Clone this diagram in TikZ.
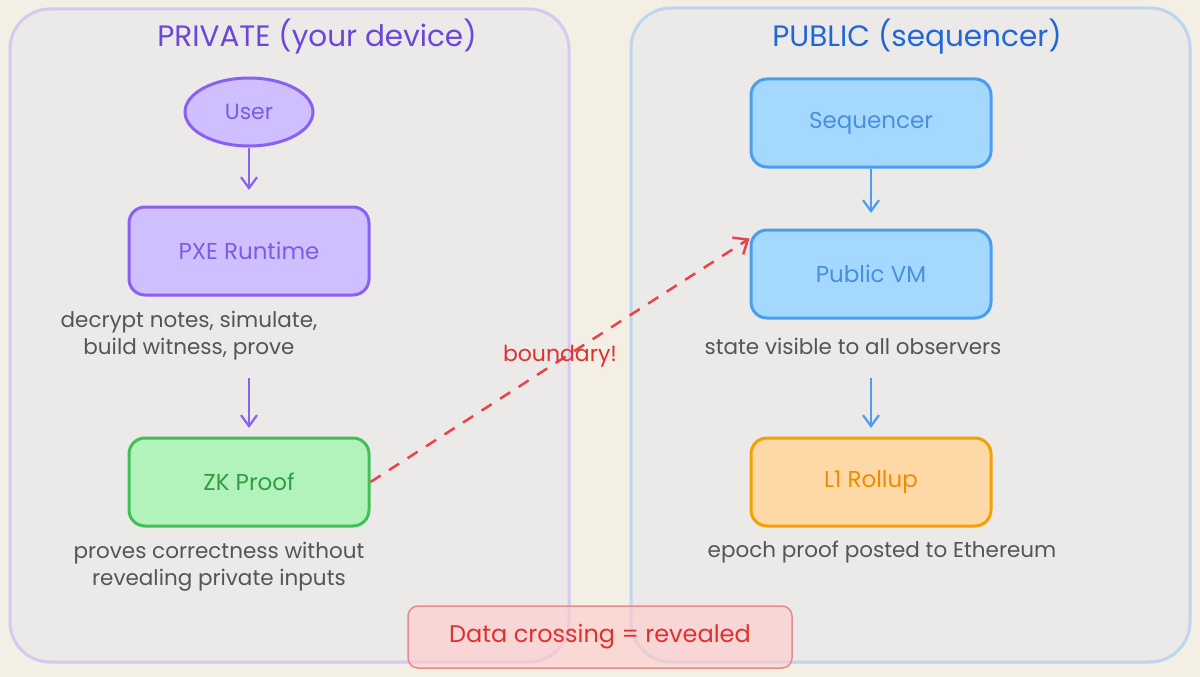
\documentclass[tikz,border=0pt]{standalone}
\usepackage{fontspec}
\setmainfont{Poppins}
\usetikzlibrary{arrows.meta,shapes.geometric}
\definecolor{bg}{HTML}{F3EFE5}
\definecolor{panelfill}{HTML}{ECEAE8}
\definecolor{privborder}{HTML}{D5C9F2}
\definecolor{pubborder}{HTML}{BED6EC}
\definecolor{privtitle}{HTML}{6B45DC}
\definecolor{pubtitle}{HTML}{2266D6}
\definecolor{purfill}{HTML}{D0BFFF}
\definecolor{purline}{HTML}{8A60F2}
\definecolor{purtext}{HTML}{7B5CE5}
\definecolor{bluefill}{HTML}{A5D8FF}
\definecolor{blueline}{HTML}{4A9EED}
\definecolor{bluetext}{HTML}{4A8FDC}
\definecolor{grnfill}{HTML}{B2F2BB}
\definecolor{grnline}{HTML}{40C057}
\definecolor{grntext}{HTML}{2F9E44}
\definecolor{orgfill}{HTML}{FFD8A8}
\definecolor{orgline}{HTML}{F59F00}
\definecolor{orgtext}{HTML}{F08C00}
\definecolor{redline}{HTML}{E8434A}
\definecolor{redtext}{HTML}{E03131}
\definecolor{redfill}{HTML}{FFC9C9}
\definecolor{redbox}{HTML}{E58C8E}
\definecolor{note}{HTML}{555555}
\tikzset{
  panel/.style={rounded corners=40pt, line width=3pt, fill=panelfill},
  stepbox/.style={rectangle, rounded corners=16pt, line width=3pt, minimum width=240pt, minimum height=88pt, font=\fontsize{23}{26}\selectfont},
  titletext/.style={font=\fontsize{29.5}{32}\selectfont},
  notetext/.style={text=note, align=center, font=\fontsize{21.5}{27}\selectfont},
  flow/.style={line width=2.2pt, -{Straight Barb[length=11pt,width=16pt,line width=2.2pt]}},
}
\begin{document}
\begin{tikzpicture}[x=1pt,y=-1pt]
\useasboundingbox (0,0) rectangle (1200,677);
\fill[bg] (0,0) rectangle (1200,677);
% panels
\draw[panel, draw=privborder] (10,9) rectangle (569,662);
\draw[panel, draw=pubborder] (631,8) rectangle (1190,662);
\node[titletext, text=privtitle] (ptitle) at (317,37) {PRIVATE (your device)};
\node[titletext, text=pubtitle] (qtitle) at (917,37) {PUBLIC (sequencer)};
% private side
\node[ellipse, line width=3pt, draw=purline, fill=purfill, text=purtext, minimum width=128pt, minimum height=68pt, font=\fontsize{22}{24}\selectfont] (user) at (249,112) {User};
\node[stepbox, draw=purline, fill=purfill, text=purtext] (pxe) at (249,251) {PXE Runtime};
\node[notetext] (pxenote) at (189,336) {decrypt notes, simulate,\\build witness, prove};
\node[stepbox, draw=grnline, fill=grnfill, text=grntext] (zk) at (249,482) {ZK Proof};
\node[notetext] (zknote) at (219,567) {proves correctness without\\revealing private inputs};
\coordinate (a0) at (249,190);
\coordinate (a1) at (249,378);
\coordinate (a2) at (249,428);
\draw[flow, draw=purline] (user.south) -- (a0);
\draw[flow, draw=purline] (a1) -- (a2);
% public side
\node[stepbox, draw=blueline, fill=bluefill, text=bluetext] (seq) at (871,123) {Sequencer};
\node[stepbox, draw=blueline, fill=bluefill, text=bluetext] (pvm) at (871,274) {Public VM};
\node[notetext] (pvmnote) at (853,346) {state visible to all observers};
\node[stepbox, draw=orgline, fill=orgfill, text=orgtext] (l1) at (871,482) {L1 Rollup};
\node[notetext] (l1note) at (882,552) {epoch proof posted to Ethereum};
\coordinate (b0) at (871,213);
\coordinate (b1) at (871,378);
\coordinate (b2) at (871,428);
\draw[flow, draw=blueline] (seq.south) -- (b0);
\draw[flow, draw=blueline] (b1) -- (b2);
% boundary
\draw[redline, line width=2.5pt, dash pattern=on 12pt off 10pt, -{Straight Barb[length=12pt,width=20pt,line width=2.5pt]}] (zk.east) -- ([yshift=-10pt]pvm.north west);
\node[text=redtext, font=\fontsize{22}{24}\selectfont] (blabel) at (560,356) {boundary!};
% data crossing
\node[rectangle, rounded corners=10pt, line width=1.5pt, draw=redbox, fill=redfill, fill opacity=0.6, text opacity=1, text=redtext, minimum width=384pt, minimum height=62pt, font=\fontsize{24}{26}\selectfont] (data) at (600,637) {Data crossing = revealed};
\end{tikzpicture}
\end{document}
